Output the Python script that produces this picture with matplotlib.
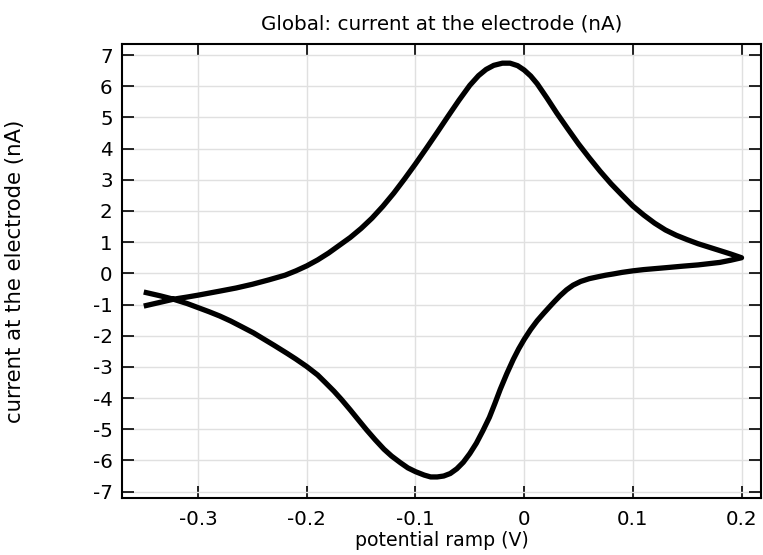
import matplotlib
matplotlib.use("Agg")
import matplotlib.pyplot as plt

# anodic (forward) sweep, -0.35 V -> 0.2 V
fwd_e = [-0.35, -0.335, -0.3227, -0.31, -0.30, -0.28, -0.265, -0.25, -0.235,
         -0.22, -0.21, -0.20, -0.19, -0.18, -0.17, -0.16, -0.15, -0.14,
         -0.13, -0.12, -0.11, -0.10, -0.09, -0.08, -0.07, -0.06, -0.05,
         -0.042, -0.035, -0.028, -0.02, -0.013, -0.006, 0.0, 0.006, 0.012,
         0.021, 0.03, 0.04, 0.05, 0.06, 0.07, 0.08, 0.09, 0.10, 0.11, 0.12,
         0.13, 0.14, 0.15, 0.16, 0.17, 0.18, 0.19, 0.20]
fwd_i = [-1.05, -0.93, -0.83, -0.76, -0.70, -0.57, -0.47, -0.35, -0.21,
         -0.06, 0.08, 0.24, 0.43, 0.65, 0.90, 1.15, 1.44, 1.77,
         2.15, 2.57, 3.03, 3.51, 4.01, 4.52, 5.04, 5.55, 6.03,
         6.34, 6.54, 6.67, 6.74, 6.74, 6.66, 6.52, 6.33, 6.08,
         5.62, 5.14, 4.64, 4.15, 3.70, 3.27, 2.87, 2.51, 2.16, 1.87, 1.61,
         1.39, 1.22, 1.08, 0.95, 0.84, 0.73, 0.62, 0.50]

# cathodic (reverse) sweep, 0.2 V -> -0.35 V
rev_e = [0.20, 0.19, 0.18, 0.17, 0.16, 0.146, 0.13, 0.12, 0.11, 0.10, 0.09,
         0.082, 0.075, 0.068, 0.06, 0.052, 0.045, 0.039, 0.033, 0.028, 0.024,
         0.018, 0.012, 0.006, 0.0, -0.005, -0.01, -0.016, -0.022, -0.027,
         -0.032, -0.038, -0.044, -0.05, -0.056, -0.062, -0.068, -0.074, -0.08,
         -0.086, -0.092, -0.10, -0.107, -0.114, -0.122, -0.129, -0.137,
         -0.145, -0.153, -0.16, -0.168, -0.175, -0.183, -0.19, -0.20, -0.21,
         -0.218, -0.23, -0.24, -0.249, -0.26, -0.27, -0.28, -0.29, -0.30,
         -0.31, -0.3227, -0.335, -0.35]
rev_i = [0.50, 0.42, 0.35, 0.31, 0.27, 0.23, 0.18, 0.15, 0.12, 0.08, 0.03,
         -0.02, -0.06, -0.11, -0.17, -0.26, -0.38, -0.53, -0.72, -0.90, -1.05,
         -1.28, -1.52, -1.80, -2.12, -2.42, -2.76, -3.22, -3.72, -4.18,
         -4.62, -5.05, -5.45, -5.78, -6.06, -6.27, -6.42, -6.50, -6.53,
         -6.53, -6.47, -6.36, -6.24, -6.07, -5.86, -5.64, -5.34,
         -5.02, -4.68, -4.38, -4.05, -3.78, -3.50, -3.26, -2.99, -2.75,
         -2.57, -2.31, -2.10, -1.91, -1.71, -1.53, -1.37, -1.23, -1.10,
         -0.97, -0.83, -0.72, -0.60]

x_ticks = [-0.3, -0.2, -0.1, 0.0, 0.1, 0.2]
x_tick_labels = ["-0.3", "-0.2", "-0.1", "0", "0.1", "0.2"]
y_ticks = list(range(-7, 8))
y_tick_labels = [str(v) for v in y_ticks]

plt.rcParams['font.family'] = ['DejaVu Sans']
fs = 14.3

fig = plt.figure(figsize=(7.63, 5.55), dpi=100)
ax = fig.add_axes([0.1595, 0.103, 0.838, 0.818])

e = fwd_e + rev_e[1:]
i = fwd_i + rev_i[1:]
ax.plot(e, i, color="black", lw=3.8, solid_joinstyle="round",
        solid_capstyle="butt", zorder=3)

ax.set_xlim(-0.3703, 0.218)
ax.set_ylim(-7.2, 7.36)
ax.set_xticks(x_ticks)
ax.set_xticklabels(x_tick_labels)
ax.set_yticks(y_ticks)
ax.set_yticklabels(y_tick_labels)

ax.grid(True, color="#e0e0e0", lw=1.0, zorder=0)
ax.set_axisbelow(True)
for s in ax.spines.values():
    s.set_linewidth(1.5)
ax.tick_params(direction="in", length=8.3, width=1.2, labelsize=fs,
               top=True, right=True, pad=6.5)
ax.tick_params(axis="x", pad=9)

ax.set_title("Global: current at the electrode (nA)", fontsize=fs, pad=10.5)
ax.set_xlabel("potential ramp (V)", fontsize=13.6)
ax.set_ylabel("current at the electrode (nA)", fontsize=15.3)
ax.xaxis.set_label_coords(0.5, -0.074)
ax.yaxis.set_label_coords(-0.152, 0.5)

fig.savefig("out.png", dpi=100)
